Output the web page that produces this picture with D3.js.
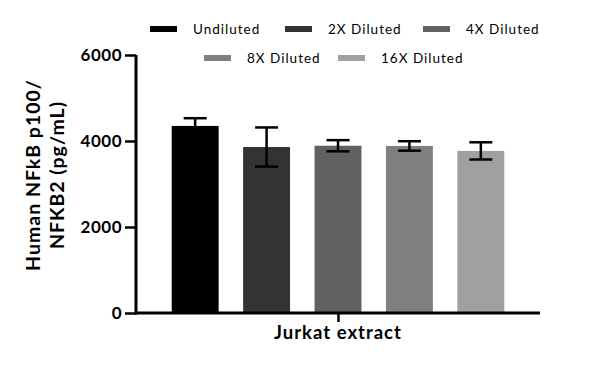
<!DOCTYPE html>
<html><head><meta charset="utf-8">
<script src="https://cdn.jsdelivr.net/npm/d3@7"></script>
<style>body{margin:0;background:#fff;} svg{display:block;}</style>
</head><body>
<svg id="c" width="600" height="365"></svg>
<script>
const categories = ["Undiluted", "2X Diluted", "4X Diluted", "8X Diluted", "16X Diluted"];
const values = [4350, 3860, 3890, 3885, 3770];
const errors = [180, 455, 130, 110, 200];
const colors = ["#000000", "#333333", "#616161", "#7f7f7f", "#a0a0a3"];
const yTicks = [0, 2000, 4000, 6000];
const groupLabel = "Jurkat extract";
const yTitle = ["Human NFkB p100/", "NFKB2 (pg/mL)"];

const font = "Lato, 'DejaVu Sans', sans-serif";
const svg = d3.select("#c");
const x0 = 136, x1 = 540, yTop = 55, yBot = 313;
const y = d3.scaleLinear().domain([0, 6000]).range([yBot, yTop]);
const x = d3.scaleBand().domain(categories).range([x0, x1]).paddingInner(0.343).paddingOuter(0.5);

// bars
svg.selectAll("rect.bar").data(categories).enter().append("rect")
  .attr("x", d => x(d)).attr("width", x.bandwidth())
  .attr("y", (d,i) => y(values[i])).attr("height", (d,i) => y(0) - y(values[i]))
  .attr("fill", (d,i) => colors[i]);

// error bars
const capW = 23;
categories.forEach((c,i) => {
  const cx = x(c) + x.bandwidth()/2;
  const g = svg.append("g").attr("stroke", "#000").attr("stroke-width", 2.5);
  g.append("line").attr("x1", cx).attr("x2", cx).attr("y1", y(values[i]+errors[i])).attr("y2", y(values[i]-errors[i]));
  g.append("line").attr("x1", cx-capW/2).attr("x2", cx+capW/2).attr("y1", y(values[i]+errors[i])).attr("y2", y(values[i]+errors[i]));
  g.append("line").attr("x1", cx-capW/2).attr("x2", cx+capW/2).attr("y1", y(values[i]-errors[i])).attr("y2", y(values[i]-errors[i]));
});

// y axis
const ya = svg.append("g").attr("transform", `translate(${x0},0)`)
  .call(d3.axisLeft(y).tickValues(yTicks).tickSize(11).tickPadding(3).tickFormat(d3.format("d")));
ya.select(".domain").attr("stroke-width", 3).attr("d", `M0,${yTop}V${yBot+1.5}`);
ya.selectAll(".tick line").attr("stroke-width", 2.5);
ya.selectAll(".tick text").attr("font-family", font).attr("font-weight", "bold").attr("font-size", 17)
  .attr("letter-spacing", 0.5).attr("fill", "#000");

// x axis
const xs = d3.scalePoint().domain([groupLabel]).range([x0, x1]).padding(0.5);
const xa = svg.append("g").attr("transform", `translate(0,${yBot})`)
  .call(d3.axisBottom(xs).tickSize(9).tickFormat(""));
xa.select(".domain").attr("stroke-width", 3).attr("d", `M${x0-1.5},0H${x1}`);
xa.selectAll(".tick line").attr("stroke-width", 2.5);
svg.append("text").attr("x", xs(groupLabel)).attr("y", 339).attr("text-anchor", "middle")
  .attr("font-family", font).attr("font-weight", "bold").attr("font-size", 18.5).attr("letter-spacing", 1)
  .text(groupLabel);

// y title
const yt = svg.append("text").attr("transform", "rotate(-90)")
  .attr("text-anchor", "middle").attr("font-family", font).attr("font-weight", "bold")
  .attr("font-size", 19.5).attr("letter-spacing", 1);
yt.selectAll("tspan").data(yTitle).enter().append("tspan")
  .attr("x", -175).attr("y", (d,i) => 40 + i*24).text(d => d);

// legend
const legendPos = [[150, 29], [285, 29], [423, 29], [204, 58], [338, 58]];
categories.forEach((c,i) => {
  const [lx, ly] = legendPos[i];
  svg.append("rect").attr("x", lx).attr("y", ly-3).attr("width", 27).attr("height", 6).attr("fill", colors[i]);
  svg.append("text").attr("x", lx + 43).attr("y", ly + 5).attr("font-family", font).attr("font-size", 13.5)
    .attr("letter-spacing", 1).attr("fill", "#000").text(c);
});
</script>
</body></html>
